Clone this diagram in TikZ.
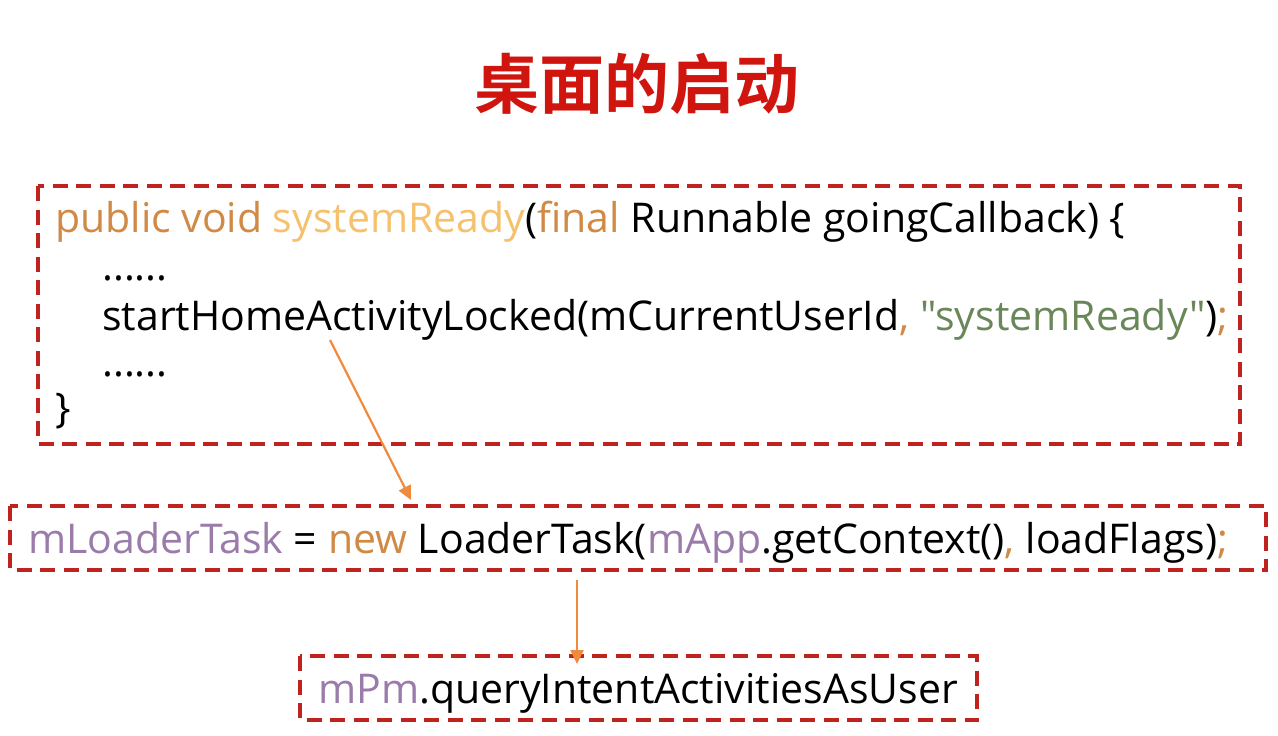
\documentclass[tikz,border=0pt]{standalone}
\usepackage{fontspec}
\setmainfont{Open Sans}
\newfontfamily\codefont{Open Sans}
\newfontfamily\cjk{Noto Sans CJK SC Bold}
\usetikzlibrary{arrows.meta}
\definecolor{boxred}{HTML}{C0231E}
\definecolor{titred}{HTML}{D0150F}
\definecolor{kw}{HTML}{D08A45}
\definecolor{fn}{HTML}{F5C16E}
\definecolor{pur}{HTML}{9A7BAA}
\definecolor{grn}{HTML}{6A8759}
\definecolor{arr}{HTML}{F08A3C}
\tikzset{
  dbox/.style={draw=boxred,line width=3.5pt,dash pattern=on 15pt off 8.5pt},
  code/.style={anchor=base west,inner sep=0pt,font=\codefont\fontsize{41}{48}\selectfont},
  conn/.style={draw=arr,line width=2.2pt,-{Triangle[length=14pt,width=13pt]}}
}
\begin{document}
\begin{tikzpicture}[x=1pt,y=-1pt]
\fill[white] (0,0) rectangle (1278,736);
\useasboundingbox (0,0) rectangle (1278,736);
\node[font=\cjk\fontsize{65}{70}\selectfont,text=titred] (title) at (637,84) {桌面的启动};
\draw[dbox] (38,186) rectangle (1240,444);
\node (b1) at (639,315) [minimum width=1202pt,minimum height=258pt] {};
\node[code] (l1) at (55,232) {\textcolor{kw}{public void} \textcolor{fn}{systemReady}(\textcolor{kw}{final} Runnable goingCallback) \{};
\node[code] (l2) at (102,280) {......};
\node[code] (l3) at (102,330) {startHomeActivityLocked(mCurrentUserId\textcolor{kw}{,} \textcolor{grn}{"systemReady"})\textcolor{kw}{;}};
\node[code] (l4) at (102,376) {......};
\node[code] (l5) at (55,422) {\}};
\draw[dbox] (10,506) rectangle (1266,570);
\node (b2) at (638,538) [minimum width=1256pt,minimum height=64pt] {};
\node[code] (l6) at (28,553) {\textcolor{pur}{mLoaderTask} = \textcolor{kw}{new} LoaderTask(\textcolor{pur}{mApp}.getContext()\textcolor{kw}{,} loadFlags)\textcolor{kw}{;}};
\draw[dbox] (300,656) rectangle (977,720);
\node (b3) at (638.5,688) [minimum width=677pt,minimum height=64pt] {};
\node[code] (l7) at (318,703) {\textcolor{pur}{mPm}.queryIntentActivitiesAsUser};
\coordinate (s1) at (330,340);
\coordinate (e1) at (411,500);
\coordinate (s2) at (577,580);
\coordinate (e2) at (577,664);
\draw[conn] (s1) -- (e1);
\draw[conn] (s2) -- (e2);
\end{tikzpicture}
\end{document}
